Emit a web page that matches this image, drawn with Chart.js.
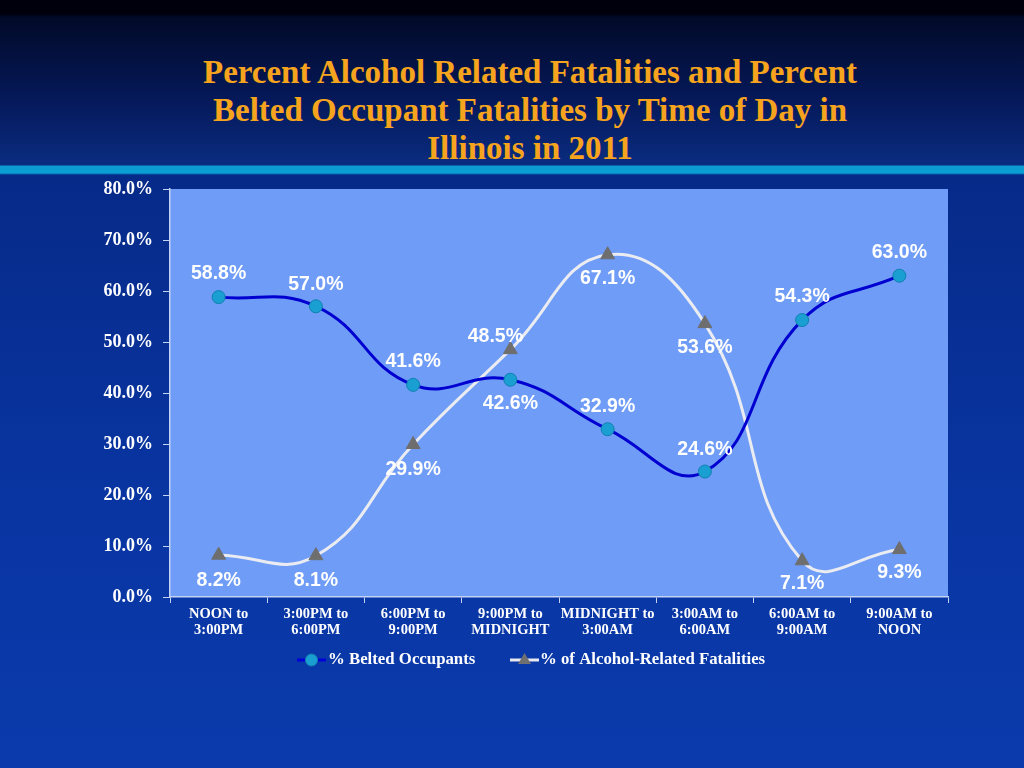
<!DOCTYPE html>
<html><head><meta charset="utf-8">
<script src="https://cdn.jsdelivr.net/npm/chart.js@4"></script>
<style>
html,body{margin:0;padding:0;width:1024px;height:768px;overflow:hidden;}
body{background:linear-gradient(to bottom,#00000c 0px,#00000c 14px,#020a28 17px,#05195a 100px,#0a2c80 165px,#0b9bd0 166px,#0aa0d4 173px,#062a88 175px,#0935a2 500px,#0a3aac 768px);position:relative;}
#title{position:absolute;top:53px;left:36px;width:988px;text-align:center;color:#f6a41e;font:bold 33px/38px 'Liberation Serif',serif;}
canvas{position:absolute;left:0;top:0;}
</style></head>
<body>
<div id="title">Percent Alcohol Related Fatalities and Percent<br>Belted Occupant Fatalities by Time of Day in<br>Illinois in 2011</div>
<canvas id="c" width="1024" height="768"></canvas>
<script>
const categories = [["NOON to","3:00PM"],["3:00PM to","6:00PM"],["6:00PM to","9:00PM"],["9:00PM to","MIDNIGHT"],["MIDNIGHT to","3:00AM"],["3:00AM to","6:00AM"],["6:00AM to","9:00AM"],["9:00AM to","NOON"]];
const beltedValues = [58.8, 57.0, 41.6, 42.6, 32.9, 24.6, 54.3, 63.0];
const alcoholValues = [8.2, 8.1, 29.9, 48.5, 67.1, 53.6, 7.1, 9.3];
const seriesNames = ["% Belted Occupants", "% of Alcohol-Related Fatalities"];
const yMin = 0, yMax = 80, yStep = 10;

// label placement (offsets from the point) per dataset
const labelOffsets = [
  [[0,-23],[0,-22],[0,-23],[0,24],[0,-23],[0,-22],[0,-23],[0,-23]],
  [[0,25],[0,25],[0,25],[-15,-13],[0,24],[0,24],[0,23],[0,23]]
];

const plotBg = {
  id:'plotBg',
  beforeDraw(chart){
    const a = chart.chartArea, ctx = chart.ctx;
    ctx.save(); ctx.fillStyle = '#6f9cf6';
    ctx.fillRect(a.left, a.top, a.right-a.left, a.bottom-a.top);
    ctx.restore();
  }
};

const dataLabels = {
  id:'dataLabels',
  afterDatasetsDraw(chart){
    const ctx = chart.ctx;
    ctx.save();
    ctx.font = "bold 19.5px 'Liberation Sans', Arial, sans-serif";
    ctx.fillStyle = '#ffffff';
    ctx.textAlign = 'center'; ctx.textBaseline = 'middle';
    chart.data.datasets.forEach((ds, di) => {
      const meta = chart.getDatasetMeta(di);
      meta.data.forEach((pt, i) => {
        const off = labelOffsets[di][i];
        ctx.fillText(ds.data[i].toFixed(1) + '%', pt.x + off[0], pt.y + off[1]);
      });
    });
    ctx.restore();
  }
};

const customLegend = {
  id:'customLegend',
  afterDraw(chart){
    const ctx = chart.ctx, y = 660;
    ctx.save();
    ctx.strokeStyle = '#0000d8'; ctx.lineWidth = 3;
    ctx.beginPath(); ctx.moveTo(297,y); ctx.lineTo(326,y); ctx.stroke();
    ctx.fillStyle = '#1a9fd2'; ctx.strokeStyle = '#1080b0'; ctx.lineWidth = 1;
    ctx.beginPath(); ctx.arc(311.5,y,6,0,Math.PI*2); ctx.fill(); ctx.stroke();
    ctx.strokeStyle = '#e8e8f0'; ctx.lineWidth = 3;
    ctx.beginPath(); ctx.moveTo(510,y); ctx.lineTo(539,y); ctx.stroke();
    ctx.fillStyle = '#707070';
    ctx.beginPath(); ctx.moveTo(524.5,y-7); ctx.lineTo(531,y+4); ctx.lineTo(518,y+4); ctx.closePath(); ctx.fill();
    ctx.font = "bold 16.8px 'Liberation Serif', serif";
    ctx.fillStyle = '#ffffff'; ctx.textAlign = 'left'; ctx.textBaseline = 'middle';
    ctx.fillText(seriesNames[0], 328, y);
    ctx.fillText(seriesNames[1], 540, y);
    ctx.restore();
  }
};

new Chart(document.getElementById('c'), {
  type:'line',
  data:{
    labels: categories,
    datasets:[
      {label:seriesNames[0], data:beltedValues, borderColor:'#0000d0', borderWidth:3, tension:0.45,
       pointStyle:'circle', pointRadius:6.5, pointBackgroundColor:'#1a9fd2', pointBorderColor:'#1080b0', pointBorderWidth:1},
      {label:seriesNames[1], data:alcoholValues, borderColor:'#eaecf2', borderWidth:3, tension:0.45,
       pointStyle:'triangle', pointRadius:8, pointBackgroundColor:'#6e6e6e', pointBorderColor:'#6e6e6e', pointBorderWidth:1}
    ]
  },
  options:{
    responsive:false, animation:false,
    layout:{padding:{left:100, right:76, top:189, bottom:111}},
    plugins:{legend:{display:false}, tooltip:{enabled:false}, title:{display:false}},
    scales:{
      x:{
        offset:true,
        afterFit(s){ s.height = 60; },
        grid:{display:true, offset:true, drawOnChartArea:false, drawTicks:true, tickLength:6, color:'#c4d2f4'},
        border:{display:true, color:'#c4d2f4', width:1.5},
        ticks:{color:'#ffffff', padding:3, maxRotation:0, autoSkip:false, font:{family:"'Liberation Serif', serif", weight:'bold', size:14.5, lineHeight:1.1}}
      },
      y:{
        min:yMin, max:yMax,
        afterFit(s){ s.width = 70; },
        grid:{display:true, drawOnChartArea:false, drawTicks:true, tickLength:7, color:'#c4d2f4'},
        border:{display:true, color:'#c4d2f4', width:1.5},
        ticks:{stepSize:yStep, color:'#ffffff', padding:10, callback:v => v.toFixed(1)+'%', font:{family:"'Liberation Serif', serif", weight:'bold', size:18}}
      }
    }
  },
  plugins:[plotBg, dataLabels, customLegend]
});
</script>
</body></html>
